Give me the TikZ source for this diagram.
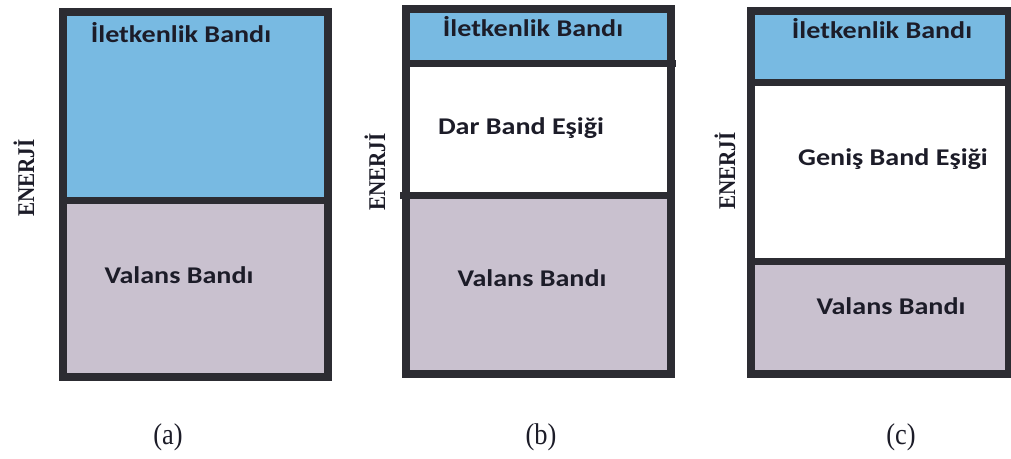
\documentclass[tikz,border=0pt]{standalone}
\usepackage{fontspec}
\usepackage{graphicx}
\setmainfont{Liberation Serif}
\newfontfamily\bandfont{Carlito}
\definecolor{edge}{RGB}{44,44,50}
\definecolor{condband}{RGB}{120,186,226}
\definecolor{valband}{RGB}{201,193,207}
\definecolor{ink}{RGB}{28,28,40}
% band labels are set slightly wide, the serif labels slightly narrow
\newcommand{\bandtxt}[1]{\scalebox{1.17}[1]{#1}}
\newcommand{\narrowtxt}[1]{\scalebox{0.88}[1]{#1}}
\begin{document}
\begin{tikzpicture}[x=1pt,y=-1pt,
  frame/.style={draw=edge,line width=8pt},
  divider/.style={draw=edge,line width=7pt},
  cband/.style={fill=condband},
  vband/.style={fill=valband},
  lbl/.style={font=\bandfont\bfseries\fontsize{24}{24}\selectfont,text=ink,inner sep=0pt,anchor=base},
  axis/.style={font=\bfseries\fontsize{24}{24}\selectfont,rotate=90,inner sep=0pt,text=ink},
  caption/.style={font=\fontsize{30}{30}\selectfont,inner sep=0pt,text=ink}]
\useasboundingbox (0,0) rectangle (1011,458);
\fill[white] (0,0) rectangle (1011,458);

% ---------- (a) ----------
\fill[cband] (63,12) rectangle (328,200);
\fill[vband] (63,200) rectangle (328,377);
\draw[divider] (63,200) -- (328,200);
\draw[frame] (63,12) rectangle (328,377);
\node[lbl] (a-cb) at (181,42) {\bandtxt{İletkenlik Bandı}};
\node[lbl] (a-vb) at (179,283) {\bandtxt{Valans Bandı}};
\node[axis] (a-en) at (24,178) {\narrowtxt{ENERJİ}};
\node[caption] (a-cap) at (168,437) {\narrowtxt{(a)}};

% ---------- (b) ----------
\fill[cband] (406,9) rectangle (671,63);
\fill[vband] (406,195) rectangle (671,374);
\draw[divider] (406,63) -- (676,63);
\draw[divider] (400,195) -- (671,195);
\draw[frame] (406,9) rectangle (671,374);
\node[lbl] (b-cb) at (533,36) {\bandtxt{İletkenlik Bandı}};
\node[lbl] (b-gap) at (521,134) {\bandtxt{Dar Band Eşiği}};
\node[lbl] (b-vb) at (532,286) {\bandtxt{Valans Bandı}};
\node[axis] (b-en) at (375,172) {\narrowtxt{ENERJİ}};
\node[caption] (b-cap) at (541,437) {\narrowtxt{(b)}};

% ---------- (c) ----------
\fill[cband] (751,11) rectangle (1009,82);
\fill[vband] (751,261) rectangle (1009,374);
\draw[divider] (751,82) -- (1009,82);
\draw[divider] (751,261) -- (1009,261);
\draw[frame] (751,11) rectangle (1009,374);
\node[lbl] (c-cb) at (882,38) {\bandtxt{İletkenlik Bandı}};
\node[lbl] (c-gap) at (893,165) {\bandtxt{Geniş Band Eşiği}};
\node[lbl] (c-vb) at (891,314) {\bandtxt{Valans Bandı}};
\node[axis] (c-en) at (725,171) {\narrowtxt{ENERJİ}};
\node[caption] (c-cap) at (901,437) {\narrowtxt{(c)}};
\end{tikzpicture}
\end{document}
